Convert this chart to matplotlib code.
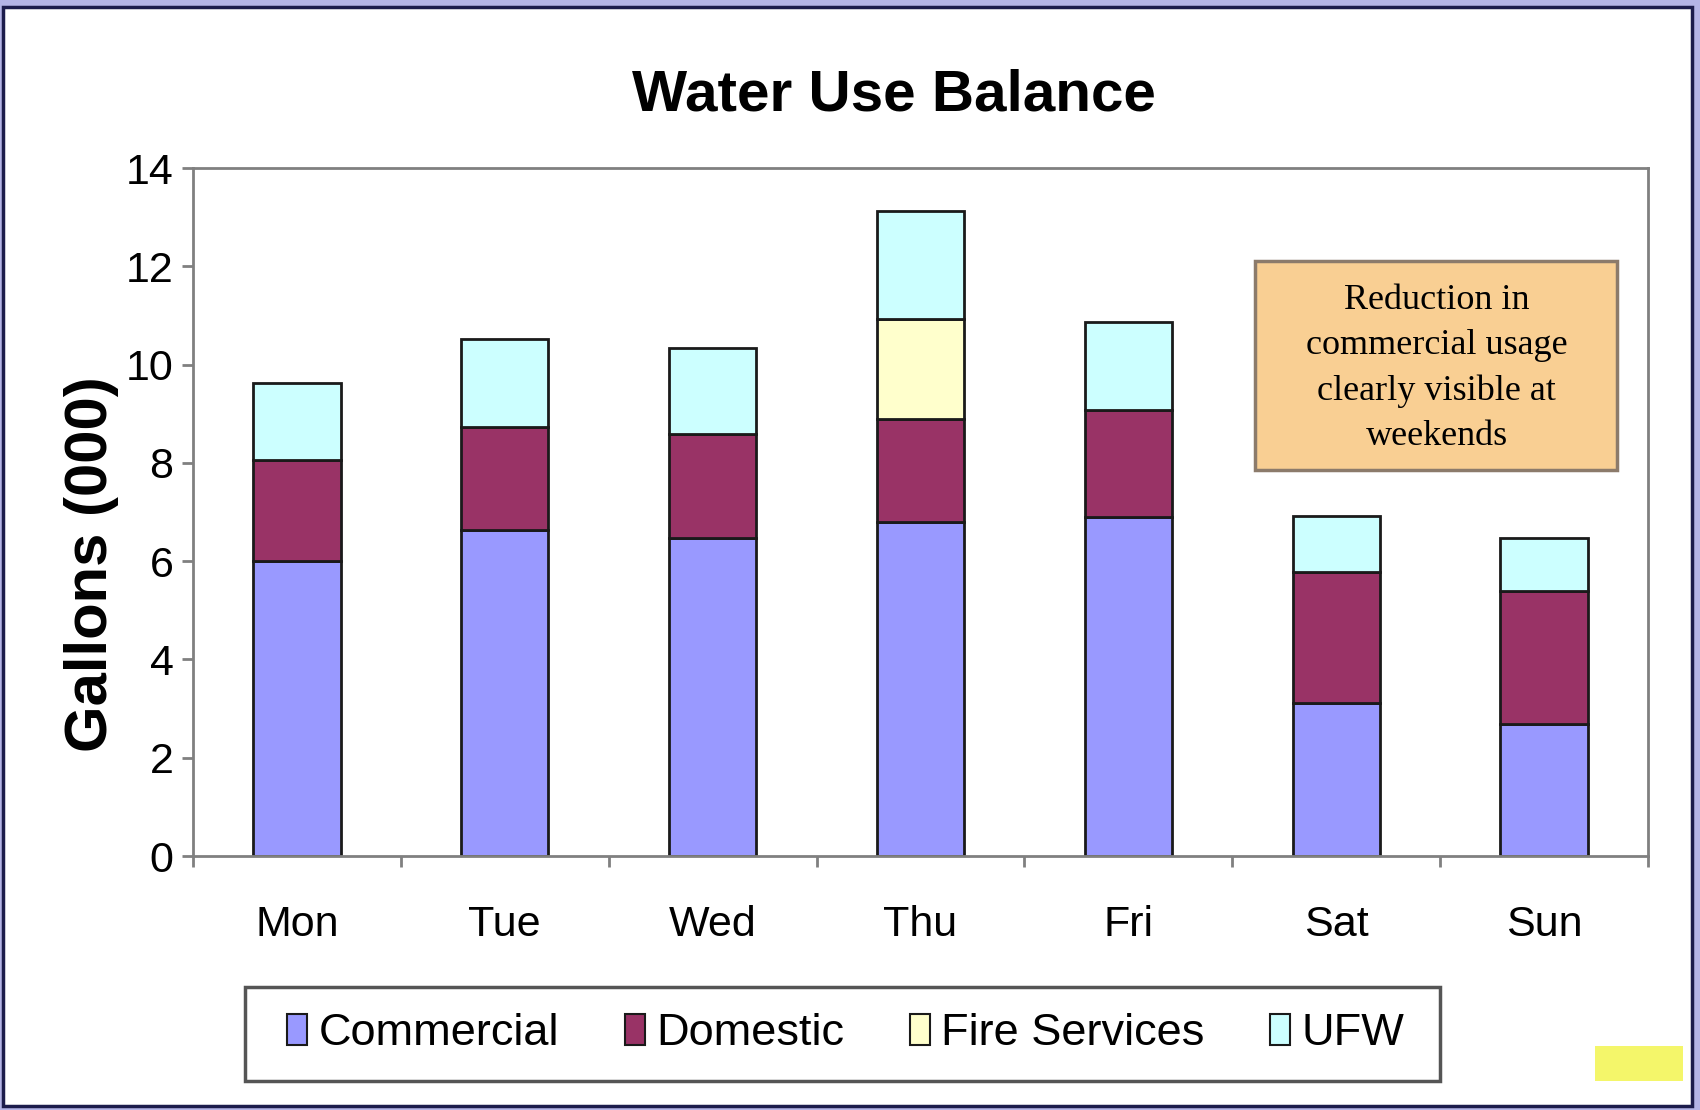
import matplotlib
matplotlib.use("Agg")
from matplotlib import pyplot as plt
from matplotlib.patches import Rectangle, Patch
import numpy as np

plt.rcParams["font.family"] = ["Liberation Sans", "DejaVu Sans"]
plt.rcParams["hatch.color"] = "#c9c94a"

# data (thousands of gallons)
days = ["Mon", "Tue", "Wed", "Thu", "Fri", "Sat", "Sun"]
commercial = [6.00, 6.64, 6.48, 6.79, 6.90, 3.11, 2.69]
domestic = [2.05, 2.09, 2.10, 2.11, 2.18, 2.67, 2.71]
fire_services = [0.0, 0.0, 0.0, 2.03, 0.0, 0.0, 0.0]
ufw = [1.58, 1.79, 1.76, 2.19, 1.79, 1.14, 1.08]

series = [("Commercial", commercial, "#9999ff"),
          ("Domestic", domestic, "#993366"),
          ("Fire Services", fire_services, "#ffffcc"),
          ("UFW", ufw, "#ccffff")]

fig = plt.figure(figsize=(17, 11.1), dpi=100, facecolor="#b4b4e6")
# white slide panel with dark frame (behind everything)
fig.patches.append(Rectangle((0.002, 0.004), 0.993, 0.99, transform=fig.transFigure,
                             facecolor="white", edgecolor="#1c1c4c", linewidth=2.5,
                             zorder=-10))

ax = fig.add_axes([0.1135, 0.2288, 0.8559, 0.6198])
ax.set_facecolor("white")

x = np.arange(len(days))
bottom = np.zeros(len(days))
for name, vals, col in series:
    vals = np.array(vals)
    bars = ax.bar(x, vals, width=0.42, bottom=bottom, color=col,
                  edgecolor="#1a1a1a", linewidth=2, label=name)
    # zero-height segments shouldn't leave a line
    for b, v in zip(bars, vals):
        if v == 0:
            b.set_linewidth(0)
    bottom += vals

ax.set_xlim(-0.5, 6.5)
ax.set_ylim(0, 14)
ax.set_yticks(range(0, 15, 2))
ax.set_xticks(x)
ax.set_xticklabels(days)
ax.set_xticks(np.arange(-0.5, 7, 1), minor=True)
ax.tick_params(axis="x", which="major", length=0, pad=35, labelsize=31)
ax.tick_params(axis="x", which="minor", length=8, width=2, color="#808080", direction="out")
ax.tick_params(axis="y", length=8, width=2, color="#808080", direction="out", pad=6, labelsize=31)
for s in ax.spines.values():
    s.set_color("#808080")
    s.set_linewidth(2)

fig.text(0.526, 0.914, "Water Use Balance", ha="center", va="center",
         fontsize=42, fontweight="bold")
fig.text(0.054, 0.492, "Gallons (000)", ha="center", va="center", rotation=90,
         fontsize=43, fontweight="bold")

# annotation box
fig.patches.append(Rectangle((0.738, 0.5766), 0.213, 0.188, transform=fig.transFigure,
                             facecolor="#f9cf93", edgecolor="#8c7b6b", linewidth=2.5,
                             zorder=5))
fig.text(0.845, 0.668, "Reduction in\ncommercial usage\nclearly visible at\nweekends",
         ha="center", va="center", fontsize=26, family="Liberation Serif",
         linespacing=1.49, zorder=6)

# legend: frame drawn separately so its margins match
fig.patches.append(Rectangle((0.1441, 0.0261), 0.703, 0.0847, transform=fig.transFigure,
                             facecolor="white", edgecolor="#555555", linewidth=2.5,
                             zorder=4))
handles = [Patch(facecolor=c, edgecolor="#1a1a1a", linewidth=1.5) for _, _, c in series]
leg = fig.legend(handles=handles, labels=[s[0] for s in series], ncol=4,
                 loc="center", bbox_to_anchor=(0.4975, 0.0685), fontsize=32.5,
                 frameon=False, handlelength=0.45, handleheight=0.7,
                 handletextpad=0.25, columnspacing=1.45)
leg.set_zorder(6)

# small yellow badge in the bottom right corner
fig.patches.append(Rectangle((0.938, 0.026), 0.052, 0.032, transform=fig.transFigure,
                             facecolor="#f4f66a", edgecolor="none", hatch="|", zorder=5))

fig.savefig("out.png", dpi=100, facecolor=fig.get_facecolor())
